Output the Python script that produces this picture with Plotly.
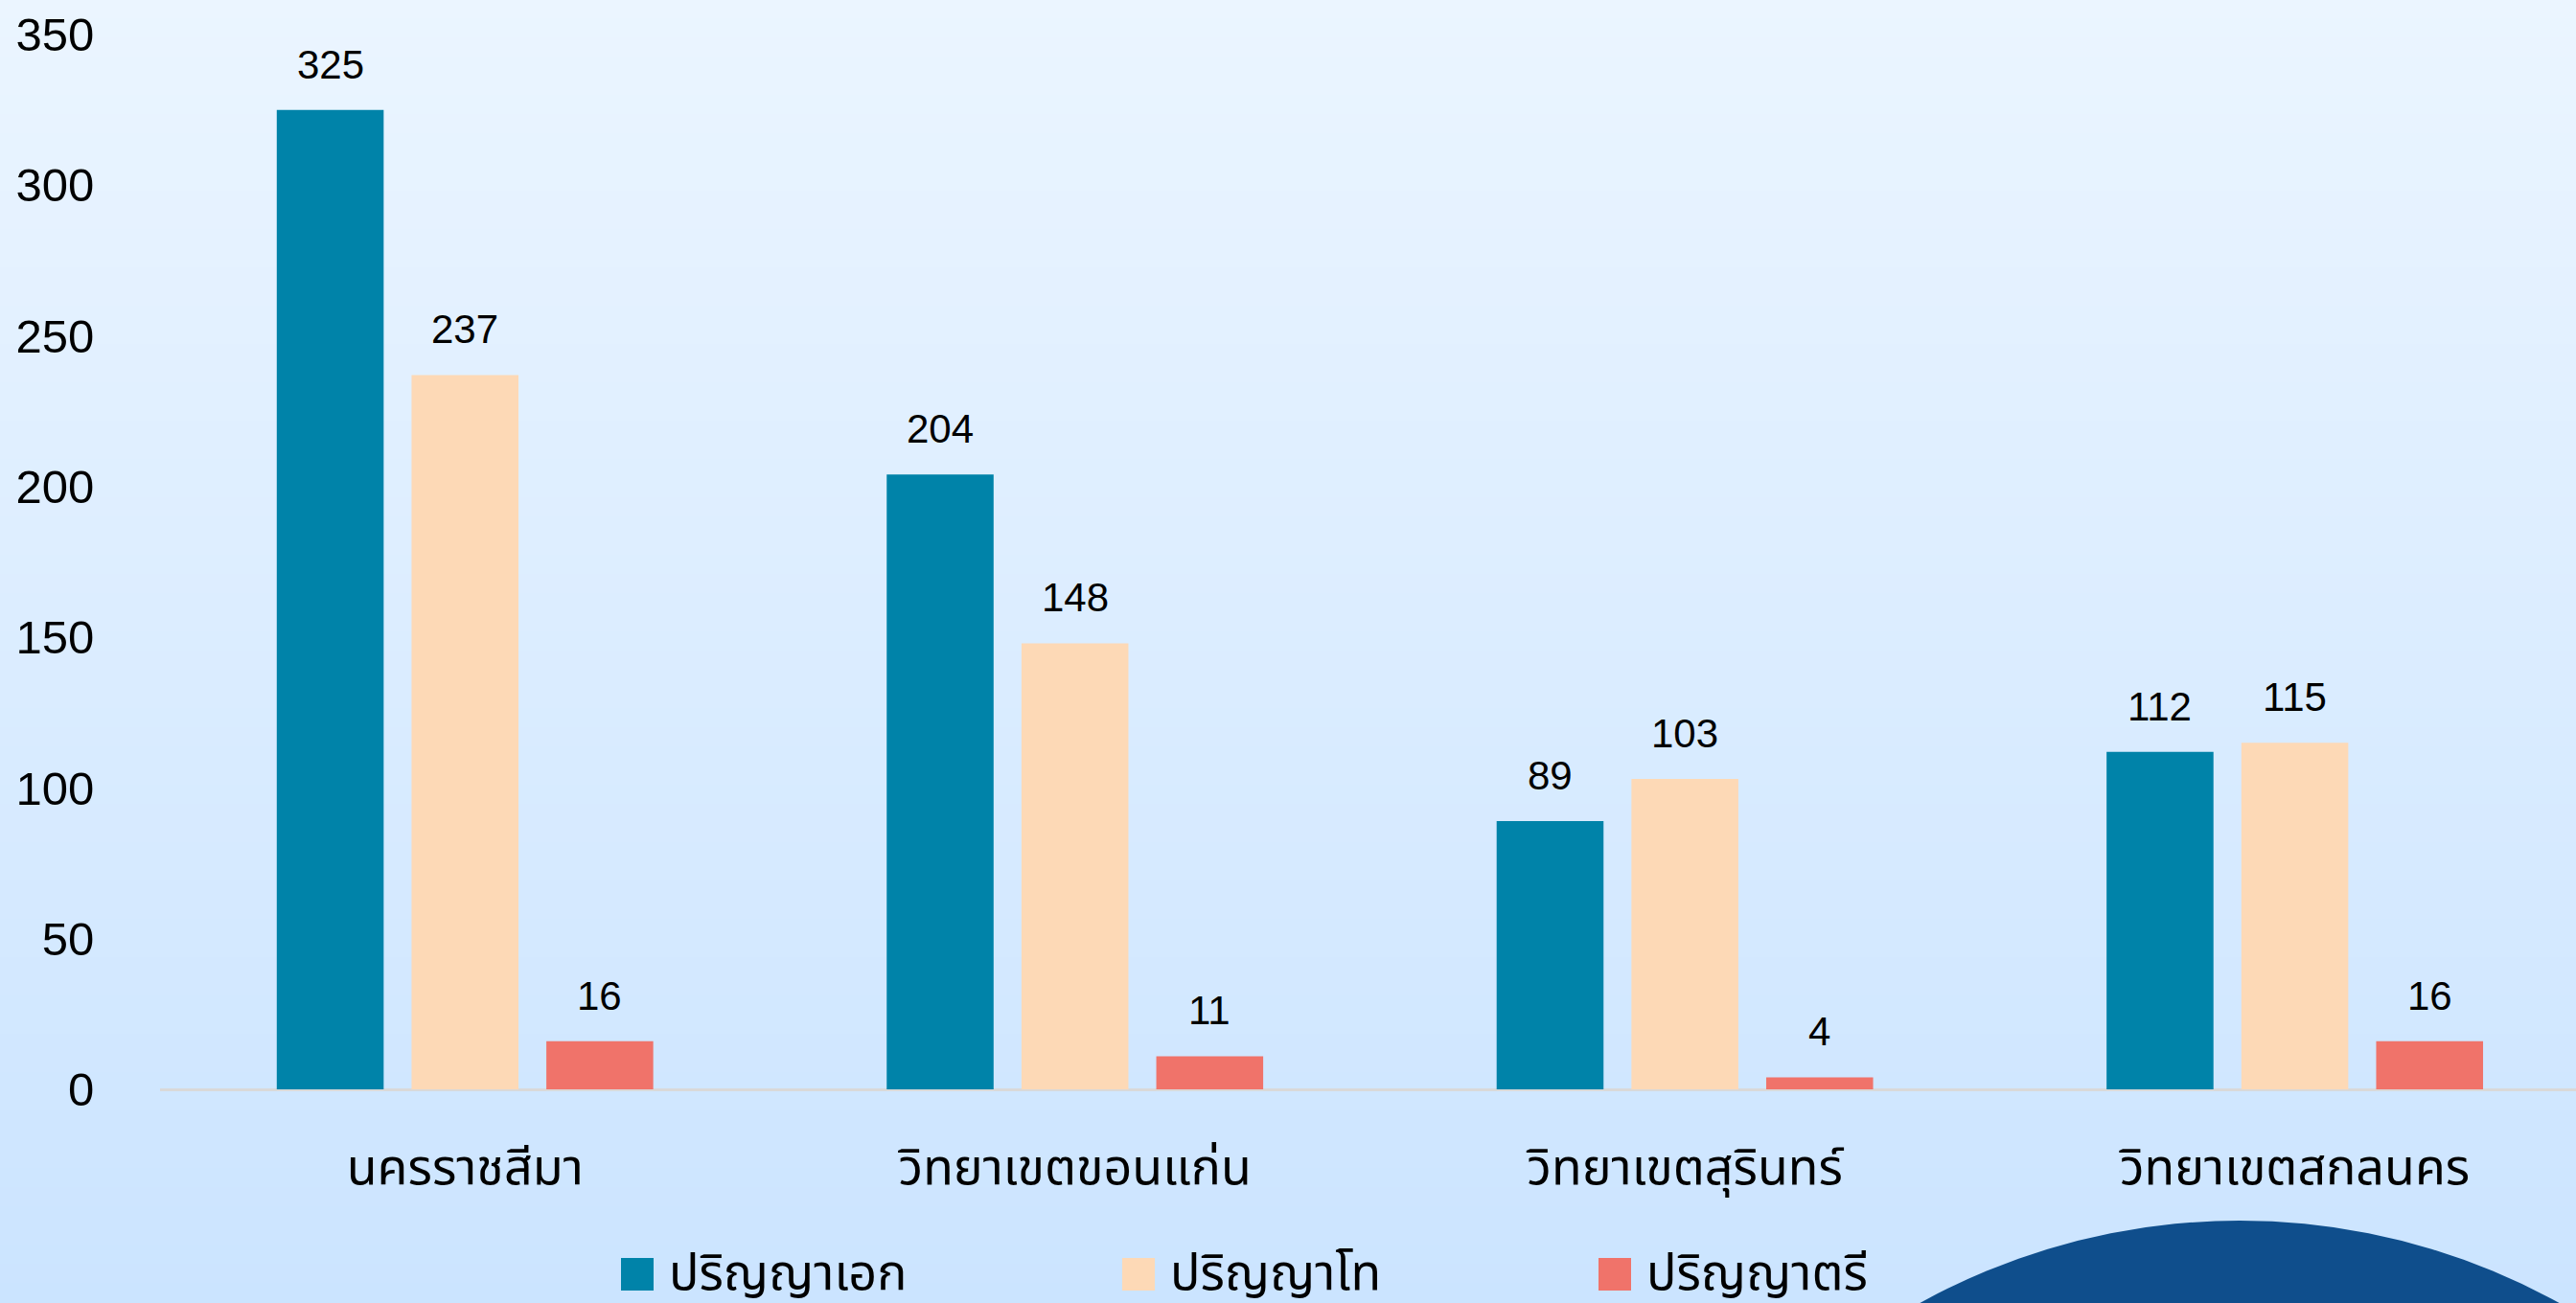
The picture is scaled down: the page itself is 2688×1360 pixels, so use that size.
import plotly.graph_objects as go

categories = ["นครราชสีมา", "วิทยาเขตขอนแก่น", "วิทยาเขตสุรินทร์", "วิทยาเขตสกลนคร"]
series_names = ["ปริญญาเอก", "ปริญญาโท", "ปริญญาตรี"]
phd = [325, 204, 89, 112]
master = [237, 148, 103, 115]
bachelor = [16, 11, 4, 16]
y_ticks = [0, 50, 100, 150, 200, 250, 300, 350]

colors = ["#0083A9", "#FDD9B6", "#F0736A"]
W, H = 2688, 1360
ML, MR, MT, MB = 167, 0, 36, 223
PW, PH = W - ML - MR, H - MT - MB

NUM_FONT = "Liberation Sans, Arial, Helvetica, sans-serif"
THAI_FONT = "Noto Sans Thai, Noto Sans, Liberation Sans, sans-serif"

xs = list(range(len(categories)))
bargap = 0.337
groupgap = 0.207
slot = (1 - bargap) / 3

fig = go.Figure()
all_series = [phd, master, bachelor]
for name, vals, col in zip(series_names, all_series, colors):
    fig.add_trace(go.Bar(x=xs, y=vals, name=name, marker=dict(color=col, line=dict(width=0)),
                         showlegend=False, hoverinfo="skip"))

annotations = []
for k, vals in enumerate(all_series):
    off = (k - 1) * slot
    for i, v in enumerate(vals):
        annotations.append(dict(x=xs[i] + off, y=v, xref="x", yref="y", text=str(v),
                                showarrow=False, yanchor="bottom", yshift=22,
                                font=dict(family=NUM_FONT, size=42, color="#000000")))

shapes = []
top_c = (235, 245, 255)
bot_c = (203, 228, 255)
n = 68
def px_to_paper_x(px):
    return (px - ML) / PW
def px_to_paper_y(py):
    return (H - MB - py) / PH
for s in range(n):
    y0p = H * s / n - 1
    y1p = H * (s + 1) / n + 1
    t = (s + 0.5) / n
    c = tuple(round(top_c[j] + (bot_c[j] - top_c[j]) * t) for j in range(3))
    shapes.append(dict(type="rect", xref="paper", yref="paper", layer="below",
                       x0=px_to_paper_x(-2), x1=px_to_paper_x(W + 2),
                       y0=px_to_paper_y(y0p), y1=px_to_paper_y(y1p),
                       fillcolor="rgb(%d,%d,%d)" % c, line=dict(width=0)))
cx, cy, r = 2337, 1964, 690
shapes.append(dict(type="circle", xref="paper", yref="paper", layer="below",
                   x0=px_to_paper_x(cx - r), x1=px_to_paper_x(cx + r),
                   y0=px_to_paper_y(cy + r), y1=px_to_paper_y(cy - r),
                   fillcolor="#0F4E8C", line=dict(width=0)))

leg_sq_x = [648, 1171, 1668]
leg_y = 1330
sq = 34
for name, col, lx in zip(series_names, colors, leg_sq_x):
    shapes.append(dict(type="rect", xref="paper", yref="paper", layer="above",
                       x0=px_to_paper_x(lx), x1=px_to_paper_x(lx + sq),
                       y0=px_to_paper_y(leg_y + sq / 2), y1=px_to_paper_y(leg_y - sq / 2),
                       fillcolor=col, line=dict(width=0)))
    annotations.append(dict(x=px_to_paper_x(lx + sq + 14), y=px_to_paper_y(leg_y), xref="paper", yref="paper",
                            text=name, showarrow=False, xanchor="left", yanchor="middle",
                            font=dict(family=THAI_FONT, size=52, color="#000000")))

fig.update_layout(
    width=W, height=H,
    margin=dict(l=ML, r=MR, t=MT, b=MB, pad=0),
    paper_bgcolor="#DDEEFF", plot_bgcolor="rgba(0,0,0,0)",
    barmode="group", bargap=bargap, bargroupgap=groupgap,
    showlegend=False,
    shapes=shapes, annotations=annotations,
    xaxis=dict(range=[-0.5, 3.461], tickvals=xs, ticktext=categories,
               showgrid=False, zeroline=False, showline=False,
               ticks="outside", ticklen=36, tickcolor="rgba(0,0,0,0)",
               tickfont=dict(family=THAI_FONT, size=52, color="#000000")),
    yaxis=dict(range=[0, 350], tickvals=y_ticks, showgrid=False,
               zeroline=True, zerolinecolor="#D9D9D9", zerolinewidth=3,
               showline=False, ticks="outside", ticklen=58, tickcolor="rgba(0,0,0,0)",
               tickfont=dict(family=NUM_FONT, size=49, color="#000000")),
)

fig.write_html("out.html", config={"displayModeBar": False},
               post_script="document.body.style.margin='0';document.body.style.padding='0';document.body.style.overflow='hidden';document.body.style.background='#CBE4FF';")
